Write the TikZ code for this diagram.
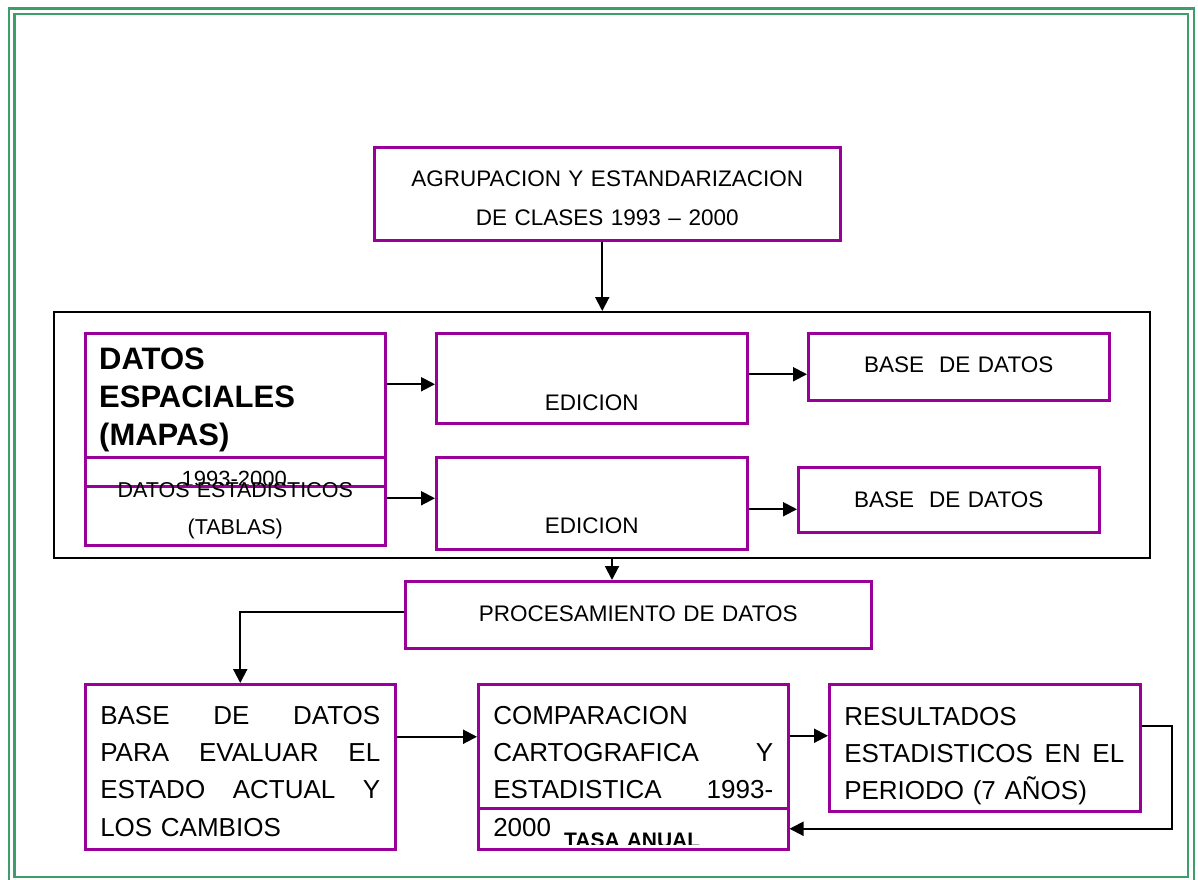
\documentclass[tikz,border=0pt]{standalone}
\usepackage{fontspec}
\setmainfont{Liberation Sans}
\usepackage{tikz}
\usetikzlibrary{arrows.meta}
\definecolor{mpurple}{RGB}{153,0,153}
\definecolor{mgreen}{RGB}{61,158,107}
\newcommand{\boxfont}{\fontsize{22.5}{39}\selectfont}
\newcommand{\estfont}{\fontsize{21.5}{37}\selectfont}
\newcommand{\botfont}{\fontsize{26}{37.3}\selectfont}
\newcommand{\mapfont}{\fontsize{31}{38}\selectfont\bfseries}
\newcommand{\tasafont}{\fontsize{21}{25}\selectfont\bfseries}
% justified line: words separated by \hfill
\newcommand{\jline}[1]{\leavevmode\hbox to 280pt{#1}}
\tikzset{
  mbox/.style={rectangle, draw=mpurple, line width=2.5pt, anchor=north west, inner xsep=15pt, inner ysep=0pt},
  mtext/.style={rectangle, anchor=north west, inner xsep=15pt, inner ysep=0pt},
  mframe/.style={rectangle, draw, line width=2pt, anchor=north west, inner sep=0pt},
  marrow/.style={-{Triangle[length=14pt,width=14pt]}, line width=2pt},
  gline/.style={draw=mgreen, line width=2.5pt}
}

\begin{document}
\begin{tikzpicture}[x=1pt,y=-1pt]
\useasboundingbox (0,0) rectangle (1198,879);
% page border
\draw[gline] (9,8.5) rectangle (1194,884);
\draw[gline] (14.5,14) rectangle (1188,877);

\node[mbox, font=\boxfont, align=center, text width=436pt, text height=39pt, text depth=54pt] (agrup) at (373,146) {AGRUPACION Y ESTANDARIZACION\\DE CLASES 1993 – 2000};

\node[mframe, minimum width=1096pt, minimum height=246pt] (datos) at (53,311) {};

% rows inside the frame
\node[mbox, minimum width=300pt, minimum height=153pt] (espac) at (84,332) {};
\begin{scope}
  \clip (espac.north west) rectangle ([yshift=3pt]espac.south east);
  \node[mtext, font=\mapfont, align=left, text width=270pt, text height=37pt, text depth=116pt] (esptxt) at (espac.north west) {DATOS\\ESPACIALES\\(MAPAS)\\[3pt]\mdseries\fontsize{22}{38}\selectfont\leavevmode\hbox to 270pt{\hfil 1993-2000\hfil}};
\end{scope}
\node[mbox, font=\estfont, align=center, text width=270pt, text height=40pt, text depth=48pt] (estad) at (84,456) {DATOS ESTADISTICOS\\(TABLAS)};

\node[mbox, font=\boxfont, align=center, text width=281pt, text height=77pt, text depth=13pt] (edic1) at (435,332) {EDICION};
\node[mbox, font=\boxfont, align=center, text width=281pt, text height=76pt, text depth=16pt] (edic2) at (435,456) {EDICION};
\node[mbox, font=\boxfont, align=center, text width=271pt, text height=39pt, text depth=28pt] (base1) at (807,332) {BASE\ \ DE DATOS};
\node[mbox, font=\boxfont, align=center, text width=271pt, text height=40pt, text depth=25pt] (base2) at (797,466) {BASE\ \ DE DATOS};

\node[mbox, font=\boxfont, align=center, text width=436pt, text height=40pt, text depth=27pt] (proc) at (404,580) {PROCESAMIENTO DE DATOS};

% bottom row
\node[mbox, font=\botfont, align=left, text width=280pt, text height=40pt, text depth=125pt] (beval) at (84,683) {\jline{BASE\hfill DE\hfill DATOS}\\\jline{PARA\hfill EVALUAR\hfill EL}\\\jline{ESTADO\hfill ACTUAL\hfill Y}\\LOS CAMBIOS};
\node[mbox, font=\botfont, align=left, text width=280pt, text height=40pt, text depth=125pt] (comp) at (477,683) {COMPARACION\\\jline{CARTOGRAFICA\hfill Y}\\\jline{ESTADISTICA\hfill 1993-}\\2000};
\node[mbox, minimum width=310pt, minimum height=41pt] (tasa) at (477,807) {};
\begin{scope}
  \clip (tasa.north west) rectangle ([yshift=6pt]tasa.south east);
  \node[mtext, font=\tasafont, align=center, text width=280pt, text height=40pt, text depth=1pt] (tasatxt) at (tasa.north west) {TASA ANUAL};
\end{scope}
\node[mbox, font=\botfont, align=left, text width=281pt, text height=41pt, text depth=86pt] (result) at (828,683) {RESULTADOS\\\jline{ESTADISTICOS\hfill EN\hfill EL}\\PERIODO (7 AÑOS)};

% connectors
\draw[marrow] ([xshift=-5pt]agrup.south) -- ([xshift=-5pt]agrup.south |- datos.north);
\draw[marrow] ([yshift=-6pt]edic1.west -| espac.east) -- ([yshift=-6pt]edic1.west);
\draw[marrow] ([yshift=5pt]edic2.west -| estad.east) -- ([yshift=5pt]edic2.west);
\draw[marrow] ([yshift=4pt]edic1.east) -- ([yshift=4pt]edic1.east -| base1.west);
\draw[marrow] ([yshift=-6pt]edic2.east) -- ([yshift=-6pt]edic2.east -| base2.west);
\draw[marrow] ([xshift=10pt]datos.south) -- ([xshift=10pt]datos.south |- proc.north);
\draw[marrow] ([yshift=3pt]proc.west) -| (beval.north);
\draw[marrow] ([yshift=30pt]beval.east) -- ([yshift=30pt]beval.east -| comp.west);
\draw[marrow] ([yshift=12pt]result.west -| comp.east) -- ([yshift=12pt]result.west);
\draw[marrow] ([yshift=22pt]result.east) -- ++(30,0) |- (tasa.east);
\end{tikzpicture}
\end{document}
